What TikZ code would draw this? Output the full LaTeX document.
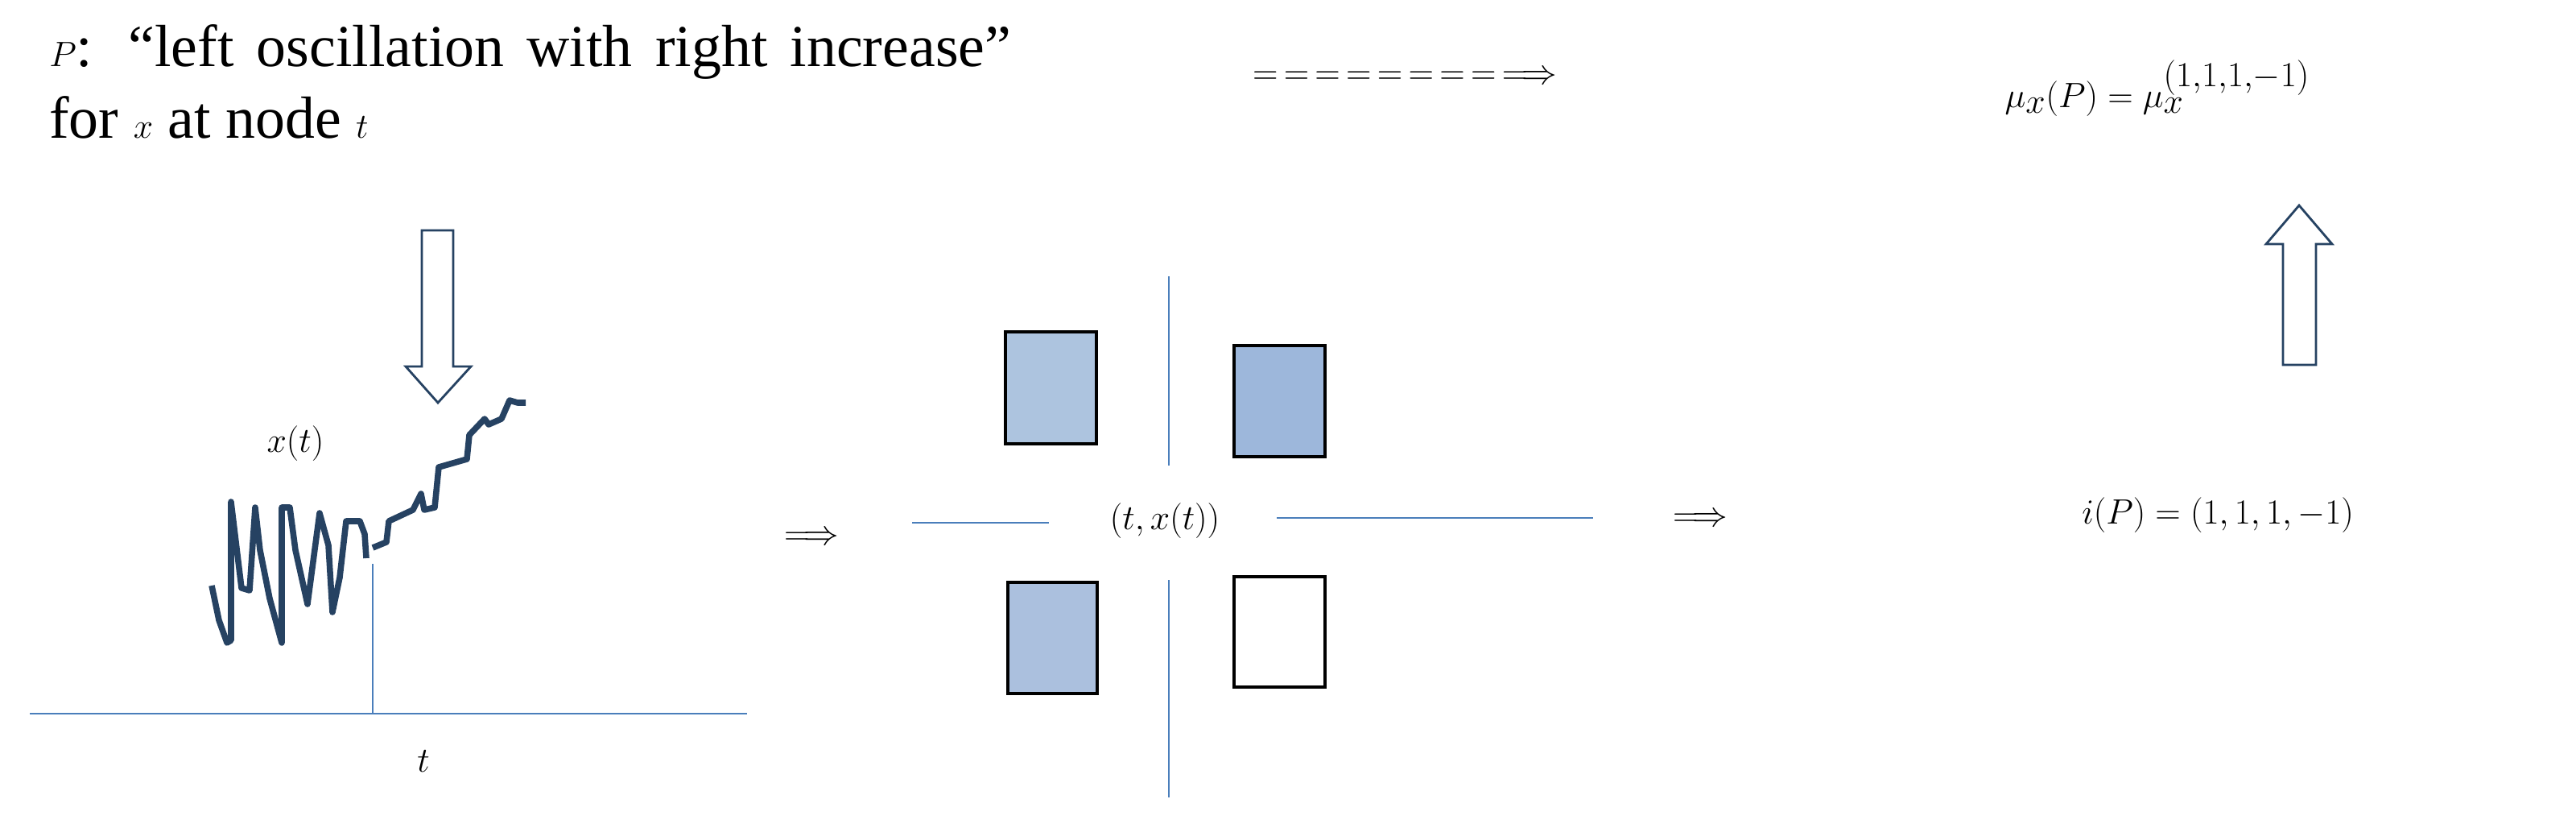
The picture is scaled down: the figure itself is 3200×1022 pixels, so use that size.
\documentclass[tikz,border=0pt]{standalone}
\usepackage{fontspec}
\setmainfont{Liberation Serif}
\definecolor{navy}{RGB}{38,66,98}
\definecolor{axblue}{RGB}{74,126,187}
\definecolor{sqa}{RGB}{173,196,223}
\definecolor{sqb}{RGB}{157,183,219}
\definecolor{sqc}{RGB}{171,192,222}
\tikzset{
  axisline/.style={draw=axblue, line width=1.6pt},
  hollow/.style={draw=navy, line width=1.6pt, fill=white},
  sq/.style={draw=black, line width=1.8pt},
  big/.style={font=\fontsize{46}{56}\selectfont},
  txt/.style={font=\fontsize{42}{51}\selectfont},
  curve/.style={draw=navy, line width=4.3pt, line join=round}
}
\begin{document}
\begin{tikzpicture}[x=0.02cm,y=-0.02cm]
\useasboundingbox (0,0) rectangle (3200,1022);
% text
\node[txt, anchor=north west, text width=23.9cm, align=justify, inner sep=0pt] (ptext) at (61,30)
 {$P$: “left oscillation with right increase” for $x$ at node $t$};
\node[big] (dash) at (1745,96) {$=\mkern3mu=\mkern3mu=\mkern3mu=\mkern3mu=\mkern3mu=\mkern3mu=\mkern3mu=\mkern3mu\Longrightarrow$};
\node[big] (mu) at (2680,110) {$\mu_x(P)=\mu_x^{(1,1,1,-1)}$};
% hollow arrows
\draw[hollow] (524,286) -- (563,286) -- (563,455) -- (585,455) -- (544,500) -- (504,455) -- (524,455) -- cycle;
\draw[hollow] (2836,453) -- (2877,453) -- (2877,303) -- (2897,303) -- (2856,255) -- (2815,303) -- (2836,303) -- cycle;
% left plot
\coordinate (axl) at (37,886); \coordinate (axr) at (928,886);
\draw[axisline] (axl) -- (axr);
\coordinate (tt) at (463,886); \coordinate (tp) at (463,700);
\draw[axisline] (tt) -- (tp);
\node[big] (xt) at (367,551) {$x(t)$};
\node[big] (tl) at (526,945) {$t$};
\draw[curve] (263,727) -- (272,770) -- (282,798) -- (287,795) -- (287,623) -- (300,730) -- (310,733) -- (317,630) -- (323,683) -- (335,743) -- (350,798) -- (350,630) -- (360,630) -- (367,683) -- (382,750) -- (397,637) -- (408,677) -- (413,760) -- (422,717) -- (430,647) -- (447,647) -- (453,663) -- (455,693);
\draw[curve] (463,680) -- (480,673) -- (483,647) -- (513,633) -- (523,613) -- (527,633) -- (540,630) -- (545,580) -- (580,570) -- (583,540) -- (602,520) -- (607,527) -- (623,520) -- (633,497) -- (643,500) -- (653,500);
\node[big] (imp1) at (1008,668) {$\Longrightarrow$};
% middle
\node[big] (pt) at (1447,647) {$(t,x(t))$};
\draw[axisline] (1452,343) -- (1452,578);
\draw[axisline] (1452,720) -- (1452,990);
\draw[axisline] (1133,649) -- (1303,649);
\draw[axisline] (1586,643) -- (1979,643);
\draw[sq, fill=sqa] (1249,412) rectangle (1362,551);
\draw[sq, fill=sqb] (1533,429) rectangle (1646,567);
\draw[sq, fill=sqc] (1252,723) rectangle (1363,861);
\draw[sq, fill=white] (1533,716) rectangle (1646,853);
\node[big] (imp2) at (2112,645) {$\Longrightarrow$};
\node[big] (ip) at (2755,640) {$i(P)=(1,1,1,-1)$};
\end{tikzpicture}
\end{document}
